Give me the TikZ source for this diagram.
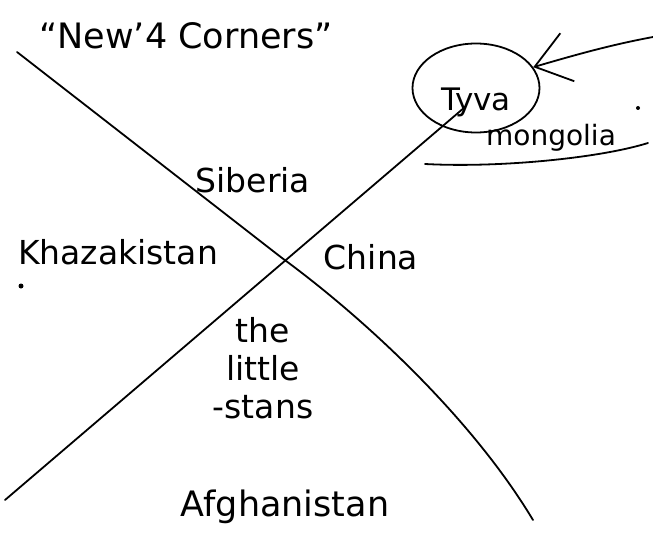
\documentclass[tikz,border=0pt]{standalone}
\usepackage{fontspec}
\setmainfont{DejaVu Sans}
\usepackage{tikz}
\usetikzlibrary{
  arrows.meta,
  positioning,
  shapes.geometric
}
\tikzset{
  place/.style={font=\fontsize{33}{38}\selectfont,inner sep=0pt,align=center},
  bigplace/.style={place,font=\fontsize{35}{40}\selectfont},
  smallplace/.style={font=\fontsize{28}{32}\selectfont,inner sep=0pt},
  penline/.style={line width=1.8pt,line cap=round,line join=round,draw=black},
  ring/.style={ellipse,penline,minimum width=127pt,minimum height=89pt,inner sep=0pt,font=\fontsize{31}{36}\selectfont},
  pointer/.style={penline,-{Straight Barb[length=34pt,width=50pt,line width=1.8pt]}}
}

\begin{document}
\begin{tikzpicture}[x=1pt,y=-1pt]
\useasboundingbox (0,0) rectangle (653,540);
\node[bigplace] (title) at (186,36) {“New’4 Corners”};
\node[place] (siberia) at (253,180) {Siberia};
\node[place] (khaz) at (118,252) {Khazakistan};
\node[place] (china) at (371,257) {China};
\node[place] (stans) at (263,368) {the\\little\\-stans};
\node[bigplace] (afgh) at (285,507) {Afghanistan};
\node[ring] (tyva) at (476,88) {\raisebox{-14pt}[\height][\depth]{Tyva}};
\node[smallplace] (mongolia) at (551,138) {mongolia};
\coordinate (nw) at (17,52);
\coordinate (mid) at (282,258);
\coordinate (se) at (533,520);
\coordinate (sw) at (5,500);
\coordinate (ne) at (465,107);
\coordinate (tail) at (653,37);
\coordinate (ul1) at (425,164);
\coordinate (ul2) at (648,143);
\draw[penline] (nw) -- (mid) .. controls (360,315) and (470,415) .. (se);
\draw[penline] (sw) -- (ne);
\draw[pointer] (tail) .. controls (610,45) and (575,55) .. (tyva.20);
\draw[penline] (ul1) .. controls (500,168) and (600,158) .. (ul2);
\fill (21,286) circle (2.5pt);
\fill (638,108) circle (2pt);
\end{tikzpicture}
\end{document}
